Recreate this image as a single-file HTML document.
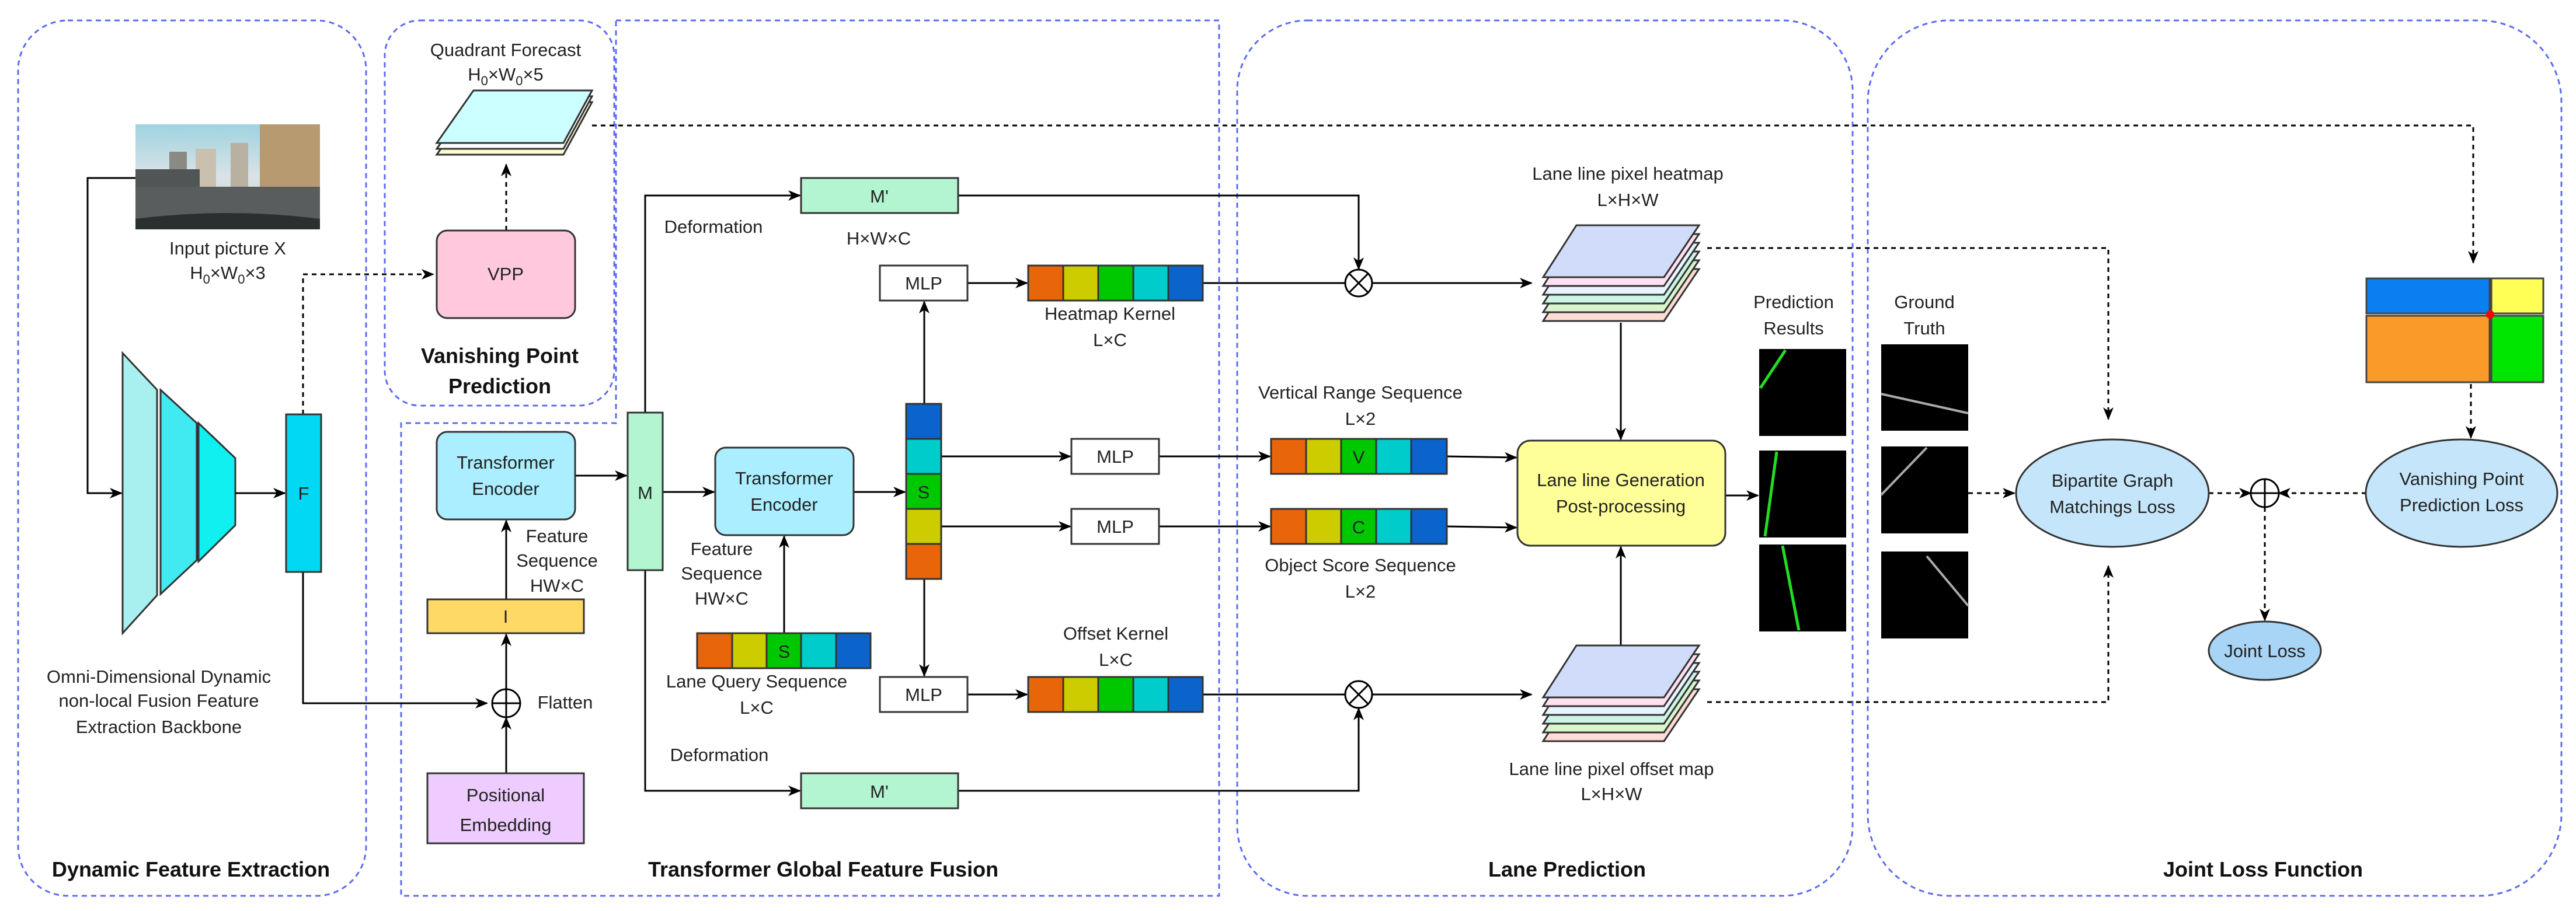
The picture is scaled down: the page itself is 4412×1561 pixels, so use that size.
<!DOCTYPE html>
<html><head><meta charset="utf-8"><style>
html,body{margin:0;padding:0;background:#fff;}
svg{display:block;}
text{font-family:"Liberation Sans",sans-serif;fill:#222;}
.t{font-size:31px;text-anchor:middle;}
.b{font-size:36px;font-weight:bold;text-anchor:middle;fill:#111;}
</style></head><body>
<svg width="4412" height="1561" viewBox="0 0 4412 1561" xmlns="http://www.w3.org/2000/svg">
<defs>
<marker id="a" markerWidth="10" markerHeight="10" refX="9" refY="5" orient="auto" markerUnits="userSpaceOnUse" viewBox="0 0 10 10"><path d="M0,0 L10,5 L0,10 L3,5 z" fill="#000"/></marker>
<marker id="A" markerWidth="22" markerHeight="22" refX="20" refY="11" orient="auto" markerUnits="userSpaceOnUse" viewBox="0 0 22 22"><path d="M0,2 L22,11 L0,20 L6,11 z" fill="#000"/></marker>
<linearGradient id="sky" x1="0" y1="0" x2="0" y2="1"><stop offset="0" stop-color="#9fd3e0"/><stop offset="0.5" stop-color="#d9e3e6"/><stop offset="1" stop-color="#c8ccc8"/></linearGradient>
</defs>

<!-- panels -->
<g fill="none" stroke="#5c6cf0" stroke-width="3" stroke-dasharray="9 7">
<rect x="31" y="35" width="596" height="1500" rx="85" ry="85"/>
<rect x="659" y="35" width="393" height="660" rx="60" ry="60"/>
<path d="M1055,35 L2088,35 L2088,1535 L687,1535 L687,725 L1055,725 Z"/>
<rect x="2119" y="35" width="1054" height="1500" rx="120" ry="120"/>
<rect x="3199" y="35" width="1188" height="1500" rx="140" ry="140"/>
</g>

<!-- input picture -->
<rect x="232" y="213" width="316" height="180" fill="url(#sky)"/>
<rect x="290" y="260" width="30" height="60" fill="#8a8a84"/>
<rect x="335" y="255" width="35" height="70" fill="#c9c0b0"/>
<rect x="395" y="245" width="30" height="75" fill="#b8b0a0"/>
<rect x="445" y="213" width="103" height="120" fill="#b89a70"/>
<rect x="232" y="290" width="110" height="70" fill="#505555"/>
<polygon points="232,320 548,320 548,380 232,380" fill="#5a5d5e"/>
<path d="M232,375 Q390,355 548,375 L548,393 L232,393 Z" fill="#2a3030"/>
<text class="t" x="390" y="436">Input picture X</text>
<text class="t" x="390" y="478">H<tspan font-size="22" dy="8">0</tspan><tspan dy="-8">×W</tspan><tspan font-size="22" dy="8">0</tspan><tspan dy="-8">×3</tspan></text>

<!-- backbone -->
<g stroke="#333" stroke-width="3">
<polygon points="210,605 269,668 269,1020 210,1085" fill="#a8f0f0"/>
<polygon points="275,668 337,725 337,960 275,1018" fill="#40eaf0"/>
<polygon points="340,725 403,785 403,900 340,962" fill="#10f0f0"/>
</g>
<text class="t" x="272" y="1170">Omni-Dimensional Dynamic</text>
<text class="t" x="272" y="1211">non-local Fusion Feature</text>
<text class="t" x="272" y="1256">Extraction Backbone</text>

<g stroke="#000" stroke-width="3" fill="none">
<polyline points="232,305 150,305 150,845 208,845" marker-end="url(#A)"/>
<line x1="403" y1="845" x2="488" y2="845" marker-end="url(#A)"/>
<polyline points="519,980 519,1205 834,1205" marker-end="url(#A)"/>
<line x1="867" y1="1325" x2="867" y2="1230" marker-end="url(#A)"/>
<line x1="867" y1="1181" x2="867" y2="1087" marker-end="url(#A)"/>
<line x1="867" y1="1027" x2="867" y2="892" marker-end="url(#A)"/>
<line x1="985" y1="815" x2="1073" y2="815" marker-end="url(#A)"/>
<polyline points="1105,707 1105,335 1370,335" marker-end="url(#A)"/>
<polyline points="1105,977 1105,1355 1370,1355" marker-end="url(#A)"/>
<line x1="1135" y1="843" x2="1223" y2="843" marker-end="url(#A)"/>
<line x1="1343" y1="1085" x2="1343" y2="919" marker-end="url(#A)"/>
<line x1="1462" y1="843" x2="1550" y2="843" marker-end="url(#A)"/>
<line x1="1583" y1="692" x2="1583" y2="517" marker-end="url(#A)"/>
<line x1="1583" y1="992" x2="1583" y2="1158" marker-end="url(#A)"/>
<line x1="1612" y1="782" x2="1833" y2="782" marker-end="url(#A)"/>
<line x1="1612" y1="902" x2="1833" y2="902" marker-end="url(#A)"/>
<line x1="1657" y1="485" x2="1759" y2="485" marker-end="url(#A)"/>
<line x1="1657" y1="1190" x2="1759" y2="1190" marker-end="url(#A)"/>
<line x1="1985" y1="782" x2="2175" y2="782" marker-end="url(#A)"/>
<line x1="1985" y1="902" x2="2175" y2="902" marker-end="url(#A)"/>
<line x1="2060" y1="485" x2="2304" y2="485"/>
<line x1="2060" y1="1190" x2="2304" y2="1190"/>
<polyline points="1641,335 2327,335 2327,461" marker-end="url(#A)"/>
<polyline points="1641,1355 2327,1355 2327,1214" marker-end="url(#A)"/>
<line x1="2350" y1="485" x2="2623" y2="485" marker-end="url(#A)"/>
<line x1="2350" y1="1190" x2="2623" y2="1190" marker-end="url(#A)"/>
<line x1="2776" y1="553" x2="2776" y2="753" marker-end="url(#A)"/>
<line x1="2776" y1="1107" x2="2776" y2="937" marker-end="url(#A)"/>
<line x1="2478" y1="782" x2="2597" y2="784" marker-end="url(#A)"/>
<line x1="2478" y1="902" x2="2597" y2="904" marker-end="url(#A)"/>
<line x1="2955" y1="849" x2="3011" y2="849" marker-end="url(#A)"/>
</g>

<!-- dashed connectors -->
<g stroke="#000" stroke-width="3" fill="none" stroke-dasharray="8 7">
<polyline points="519,710 519,470 742,470" marker-end="url(#A)"/>
<line x1="867" y1="395" x2="867" y2="282" marker-end="url(#A)"/>
<polyline points="1014,215 4236,215 4236,450" marker-end="url(#A)"/>
<polyline points="2924,425 3611,425 3611,718" marker-end="url(#A)"/>
<polyline points="2924,1203 3611,1203 3611,970" marker-end="url(#A)"/>
<line x1="3371" y1="845" x2="3450" y2="845" marker-end="url(#A)"/>
<line x1="3783" y1="845" x2="3855" y2="845" marker-end="url(#A)"/>
<line x1="4053" y1="845" x2="3903" y2="845" marker-end="url(#A)"/>
<line x1="3879" y1="869" x2="3879" y2="1063" marker-end="url(#A)"/>
<line x1="4232" y1="658" x2="4232" y2="750" marker-end="url(#A)"/>
</g>

<!-- F, VPP -->
<rect x="490" y="710" width="60" height="270" fill="#00d8f4" stroke="#333" stroke-width="3"/>
<text class="t" x="520" y="856" font-size="36">F</text>
<rect x="748" y="395" width="237" height="150" rx="18" fill="#ffc8dc" stroke="#333" stroke-width="3"/>
<text class="t" x="866" y="480">VPP</text>

<!-- Quadrant forecast stack -->
<g stroke="#333" stroke-width="3">
<polygon points="811,175 1014,175 965,265 748,265" fill="#ffffd0"/>
<polygon points="811,165 1014,165 965,255 748,255" fill="#ffffff"/>
<polygon points="811,155 1014,155 965,245 748,245" fill="#ccffff"/>
</g>
<text class="t" x="866" y="96">Quadrant Forecast</text>
<text class="t" x="866" y="138">H<tspan font-size="22" dy="8">0</tspan><tspan dy="-8">×W</tspan><tspan font-size="22" dy="8">0</tspan><tspan dy="-8">×5</tspan></text>
<text class="b" x="856" y="622">Vanishing Point</text>
<text class="b" x="856" y="674">Prediction</text>

<!-- transformer enc 1 -->
<rect x="748" y="740" width="237" height="150" rx="18" fill="#aaeeff" stroke="#333" stroke-width="3"/>
<text class="t" x="866" y="803">Transformer</text>
<text class="t" x="866" y="848">Encoder</text>
<rect x="732" y="1027" width="268" height="58" fill="#ffd966" stroke="#333" stroke-width="3"/>
<text class="t" x="866" y="1067">I</text>
<text class="t" x="954" y="929">Feature</text>
<text class="t" x="954" y="971">Sequence</text>
<text class="t" x="954" y="1014">HW×C</text>
<circle cx="867" cy="1205" r="24" fill="#fff" stroke="#000" stroke-width="3"/>
<path d="M843,1205 H891 M867,1181 V1229" stroke="#000" stroke-width="3"/>
<text class="t" x="968" y="1214" >Flatten</text>
<rect x="732" y="1325" width="268" height="120" fill="#eeccff" stroke="#333" stroke-width="3"/>
<text class="t" x="866" y="1373" font-size="34">Positional</text>
<text class="t" x="866" y="1424" font-size="34">Embedding</text>

<!-- M -->
<rect x="1075" y="707" width="60" height="270" fill="#b3f5d0" stroke="#333" stroke-width="3"/>
<text class="t" x="1105" y="855" font-size="34">M</text>
<rect x="1372" y="305" width="269" height="60" fill="#b3f5d0" stroke="#333" stroke-width="3"/>
<text class="t" x="1506" y="347">M'</text>
<rect x="1372" y="1325" width="269" height="60" fill="#b3f5d0" stroke="#333" stroke-width="3"/>
<text class="t" x="1506" y="1367">M'</text>
<text class="t" x="1222" y="399">Deformation</text>
<text class="t" x="1505" y="419">H×W×C</text>
<text class="t" x="1232" y="1304">Deformation</text>

<!-- TE2 -->
<rect x="1225" y="767" width="237" height="150" rx="18" fill="#aaeeff" stroke="#333" stroke-width="3"/>
<text class="t" x="1343" y="830">Transformer</text>
<text class="t" x="1343" y="875">Encoder</text>
<text class="t" x="1236" y="951">Feature</text>
<text class="t" x="1236" y="993">Sequence</text>
<text class="t" x="1236" y="1036">HW×C</text>

<!-- Lane query seq -->
<g stroke="#333" stroke-width="3">
<rect x="1194" y="1085" width="60" height="60" fill="#e8650a"/>
<rect x="1254" y="1085" width="59" height="60" fill="#cccc00"/>
<rect x="1313" y="1085" width="59" height="60" fill="#00c800"/>
<rect x="1372" y="1085" width="60" height="60" fill="#00cccc"/>
<rect x="1432" y="1085" width="59" height="60" fill="#0a64cc"/>
</g>
<text class="t" x="1343" y="1127" font-size="34">S</text>
<text class="t" x="1296" y="1178">Lane Query Sequence</text>
<text class="t" x="1296" y="1223">L×C</text>

<!-- S column -->
<g stroke="#333" stroke-width="3">
<rect x="1552" y="692" width="60" height="60" fill="#0a64cc"/>
<rect x="1552" y="752" width="60" height="60" fill="#00cccc"/>
<rect x="1552" y="812" width="60" height="60" fill="#00c800"/>
<rect x="1552" y="872" width="60" height="60" fill="#cccc00"/>
<rect x="1552" y="932" width="60" height="60" fill="#e8650a"/>
</g>
<text class="t" x="1582" y="854" font-size="34">S</text>

<!-- MLPs -->
<g fill="#fff" stroke="#333" stroke-width="3">
<rect x="1507" y="455" width="150" height="60"/>
<rect x="1507" y="1160" width="150" height="60"/>
<rect x="1835" y="752" width="150" height="60"/>
<rect x="1835" y="872" width="150" height="60"/>
</g>
<text class="t" x="1582" y="496">MLP</text>
<text class="t" x="1582" y="1201">MLP</text>
<text class="t" x="1910" y="793">MLP</text>
<text class="t" x="1910" y="913">MLP</text>

<!-- kernels -->
<g stroke="#333" stroke-width="3">
<rect x="1761" y="455" width="60" height="60" fill="#e8650a"/>
<rect x="1821" y="455" width="60" height="60" fill="#cccc00"/>
<rect x="1881" y="455" width="60" height="60" fill="#00c800"/>
<rect x="1941" y="455" width="60" height="60" fill="#00cccc"/>
<rect x="2001" y="455" width="59" height="60" fill="#0a64cc"/>
<rect x="1761" y="1160" width="60" height="60" fill="#e8650a"/>
<rect x="1821" y="1160" width="60" height="60" fill="#cccc00"/>
<rect x="1881" y="1160" width="60" height="60" fill="#00c800"/>
<rect x="1941" y="1160" width="60" height="60" fill="#00cccc"/>
<rect x="2001" y="1160" width="59" height="60" fill="#0a64cc"/>
<rect x="2177" y="752" width="60" height="60" fill="#e8650a"/>
<rect x="2237" y="752" width="60" height="60" fill="#cccc00"/>
<rect x="2297" y="752" width="60" height="60" fill="#00c800"/>
<rect x="2357" y="752" width="60" height="60" fill="#00cccc"/>
<rect x="2417" y="752" width="61" height="60" fill="#0a64cc"/>
<rect x="2177" y="872" width="60" height="60" fill="#e8650a"/>
<rect x="2237" y="872" width="60" height="60" fill="#cccc00"/>
<rect x="2297" y="872" width="60" height="60" fill="#00c800"/>
<rect x="2357" y="872" width="60" height="60" fill="#00cccc"/>
<rect x="2417" y="872" width="61" height="60" fill="#0a64cc"/>
</g>
<text class="t" x="2327" y="794" font-size="34">V</text>
<text class="t" x="2327" y="914" font-size="34">C</text>
<text class="t" x="1901" y="548">Heatmap Kernel</text>
<text class="t" x="1901" y="593">L×C</text>
<text class="t" x="1911" y="1096">Offset Kernel</text>
<text class="t" x="1911" y="1141">L×C</text>
<text class="t" x="2330" y="683">Vertical Range Sequence</text>
<text class="t" x="2330" y="728">L×2</text>
<text class="t" x="2330" y="979">Object Score Sequence</text>
<text class="t" x="2330" y="1024">L×2</text>

<!-- otimes -->
<g fill="#fff" stroke="#000" stroke-width="3">
<circle cx="2327" cy="485" r="23"/>
<circle cx="2327" cy="1190" r="23"/>
</g>
<path d="M2311,469 L2343,501 M2343,469 L2311,501 M2311,1174 L2343,1206 M2343,1174 L2311,1206" stroke="#000" stroke-width="3"/>

<!-- heatmap stacks -->
<g stroke="#333" stroke-width="3">
<polygon points="2700,461 2910,461 2850,550 2643,550" fill="#ffdcd4"/>
<polygon points="2700,446 2910,446 2850,535 2643,535" fill="#d8f5cc"/>
<polygon points="2700,431 2910,431 2850,520 2643,520" fill="#ccf5e6"/>
<polygon points="2700,416 2910,416 2850,505 2643,505" fill="#e8f4ff"/>
<polygon points="2700,401 2910,401 2850,490 2643,490" fill="#ffe0f0"/>
<polygon points="2700,386 2910,386 2850,475 2643,475" fill="#d0dcfa"/>
<polygon points="2700,1181 2910,1181 2850,1270 2643,1270" fill="#ffdcd4"/>
<polygon points="2700,1166 2910,1166 2850,1255 2643,1255" fill="#d8f5cc"/>
<polygon points="2700,1151 2910,1151 2850,1240 2643,1240" fill="#ccf5e6"/>
<polygon points="2700,1136 2910,1136 2850,1225 2643,1225" fill="#e8f4ff"/>
<polygon points="2700,1121 2910,1121 2850,1210 2643,1210" fill="#ffe0f0"/>
<polygon points="2700,1106 2910,1106 2850,1195 2643,1195" fill="#d0dcfa"/>
</g>
<text class="t" x="2788" y="308">Lane line pixel heatmap</text>
<text class="t" x="2788" y="353">L×H×W</text>
<text class="t" x="2760" y="1328">Lane line pixel offset map</text>
<text class="t" x="2760" y="1371">L×H×W</text>

<!-- generation box -->
<rect x="2599" y="755" width="356" height="180" rx="22" fill="#ffff99" stroke="#333" stroke-width="3"/>
<text class="t" x="2776" y="833">Lane line Generation</text>
<text class="t" x="2776" y="878">Post-processing</text>

<!-- prediction results -->
<text class="t" x="3072" y="528">Prediction</text>
<text class="t" x="3072" y="573">Results</text>
<rect x="3013" y="598" width="149" height="149" fill="#000"/>
<rect x="3013" y="772" width="149" height="149" fill="#000"/>
<rect x="3013" y="933" width="149" height="149" fill="#000"/>
<g stroke="#22dd22" stroke-width="5">
<line x1="3015" y1="665" x2="3058" y2="600"/>
<line x1="3023" y1="919" x2="3043" y2="774"/>
<line x1="3053" y1="935" x2="3081" y2="1080"/>
</g>
<text class="t" x="3296" y="528">Ground</text>
<text class="t" x="3296" y="573">Truth</text>
<rect x="3222" y="590" width="149" height="148" fill="#000"/>
<rect x="3222" y="765" width="149" height="149" fill="#000"/>
<rect x="3222" y="945" width="149" height="149" fill="#000"/>
<g stroke="#aaaaaa" stroke-width="4">
<line x1="3222" y1="575" x2="3222" y2="575"/>
<line x1="3222" y1="675" x2="3371" y2="708"/>
<line x1="3222" y1="848" x2="3300" y2="767"/>
<line x1="3300" y1="953" x2="3371" y2="1038"/>
</g>

<!-- losses -->
<ellipse cx="3618" cy="845" rx="165" ry="92" fill="#c5e6fa" stroke="#333" stroke-width="3"/>
<text class="t" x="3618" y="834">Bipartite Graph</text>
<text class="t" x="3618" y="879">Matchings Loss</text>
<ellipse cx="4216" cy="845" rx="164" ry="92" fill="#c5e6fa" stroke="#333" stroke-width="3"/>
<text class="t" x="4216" y="831">Vanishing Point</text>
<text class="t" x="4216" y="876">Prediction Loss</text>
<ellipse cx="3879" cy="1115" rx="96" ry="50" fill="#a8d4f5" stroke="#333" stroke-width="3"/>
<text class="t" x="3879" y="1126">Joint Loss</text>
<circle cx="3879" cy="845" r="24" fill="#fff" stroke="#000" stroke-width="3"/>
<path d="M3855,845 H3903 M3879,821 V869" stroke="#000" stroke-width="3"/>

<!-- quadrant image -->
<g stroke="#444" stroke-width="3">
<rect x="4053" y="477" width="211" height="60" fill="#0a7ff0"/>
<rect x="4267" y="477" width="89" height="60" fill="#ffff55"/>
<rect x="4053" y="541" width="211" height="114" fill="#fa9a28"/>
<rect x="4267" y="541" width="89" height="114" fill="#00e600"/>
</g>
<circle cx="4265" cy="539" r="7" fill="#ff0000"/>

<!-- panel titles -->
<text class="b" x="327" y="1502">Dynamic Feature Extraction</text>
<text class="b" x="1410" y="1502">Transformer Global Feature Fusion</text>
<text class="b" x="2684" y="1502">Lane Prediction</text>
<text class="b" x="3876" y="1502">Joint Loss Function</text>
</svg>
</body></html>
